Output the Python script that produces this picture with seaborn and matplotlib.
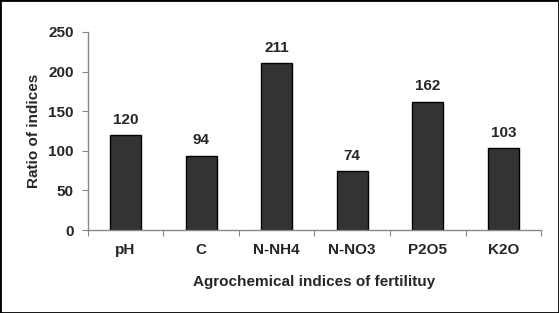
import matplotlib
matplotlib.use("Agg")
import matplotlib.pyplot as plt
import seaborn as sns
import pandas as pd
import numpy as np

# values
indices = ["pH", "C", "N-NH4", "N-NO3", "P2O5", "K2O"]
ratios = [120, 94, 211, 74, 162, 103]

df = pd.DataFrame({"index": indices, "ratio": ratios})

sns.set_style("white")
plt.rcParams['font.family'] = ['Liberation Sans', 'DejaVu Sans']
plt.rcParams['font.weight'] = 'bold'

fig = plt.figure(figsize=(5.59, 3.13), dpi=100)
ax = fig.add_axes([0.157, 0.265, 0.811, 0.633])

sns.barplot(data=df, x="index", y="ratio", color="#333333", width=0.41,
            edgecolor="black", linewidth=1.0, saturation=1, ax=ax)

for i, v in enumerate(ratios):
    ax.annotate(f"{v}", (i, v), xytext=(0, 6), textcoords="offset points",
                ha="center", va="bottom", fontsize=11, fontweight="bold")

ax.set_ylim(0, 250)
ax.set_xlim(-0.5, len(indices) - 0.5)
ax.set_yticks(np.arange(0, 251, 50))
ax.tick_params(axis="y", labelsize=11, length=4, color="#888888", direction="out", left=True, pad=6)

# ticks at category boundaries, labels at centres
ax.set_xticks(np.arange(-0.5, len(indices), 1.0))
ax.set_xticklabels([])
ax.set_xticks(np.arange(len(indices)), minor=True)
ax.set_xticklabels(indices, minor=True)
ax.tick_params(axis="x", which="major", length=4, color="#888888", direction="out", bottom=True)
ax.tick_params(axis="x", which="minor", length=0, labelsize=11, pad=9)

for s in ["top", "right"]:
    ax.spines[s].set_visible(False)
for s in ["left", "bottom"]:
    ax.spines[s].set_color("#888888")
    ax.spines[s].set_linewidth(1.0)

ax.set_xlabel("Agrochemical indices of fertilituy", fontsize=11, fontweight="bold", labelpad=13)
ax.set_ylabel("Ratio of indices", fontsize=11, fontweight="bold", labelpad=5)

fig.patches.append(plt.Rectangle((0, 0), 1, 1, transform=fig.transFigure,
                                 fill=False, edgecolor="black", linewidth=2))

fig.savefig("out.png", dpi=100)
